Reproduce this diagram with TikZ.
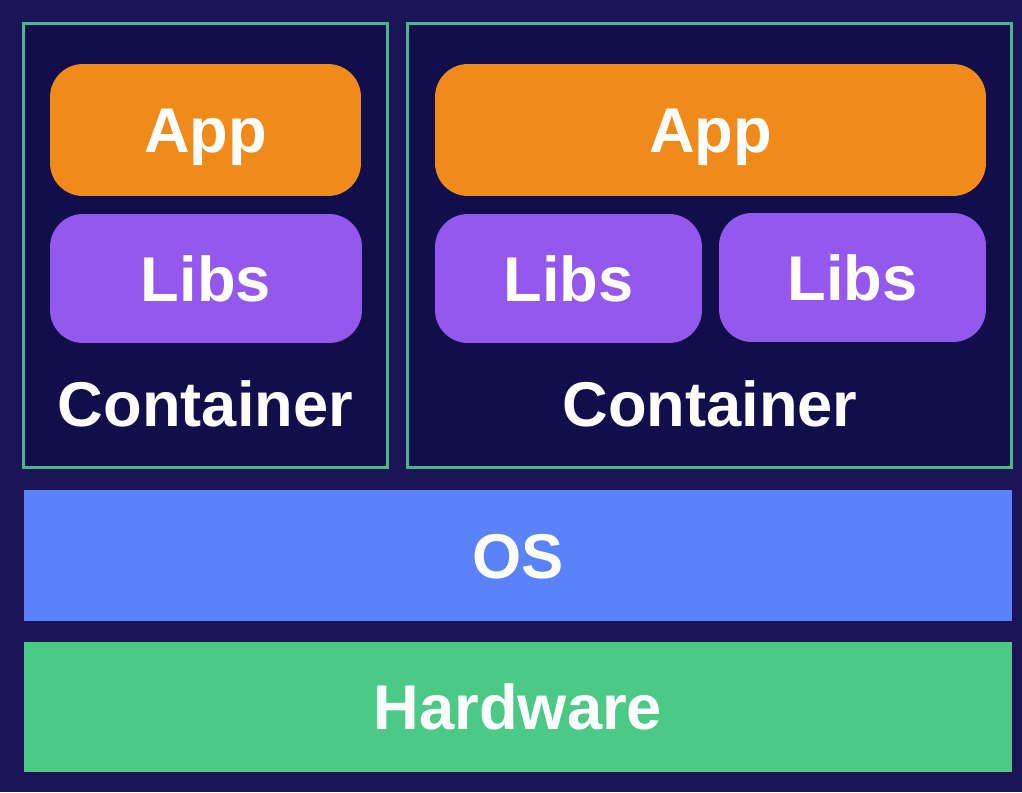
\documentclass[tikz,border=0pt]{standalone}
\usepackage{fontspec}
\setmainfont{Liberation Sans}

\definecolor{navyout}{HTML}{1B1558}
\definecolor{navyin}{HTML}{120E4C}
\definecolor{boxgreen}{HTML}{47B88A}
\definecolor{apporange}{HTML}{F08A1A}
\definecolor{libpurple}{HTML}{9558EE}
\definecolor{osblue}{HTML}{5A82FA}
\definecolor{hwgreen}{HTML}{4BC985}

\tikzset{
  every node/.style={font=\bfseries\fontsize{36}{43}\selectfont, text=white, inner sep=0pt},
  layer/.style={text height=25.8pt, text depth=0pt},
  block/.style={layer, rounded corners=0.66cm},
  contbox/.style={draw=boxgreen, fill=navyin, line width=0.06cm}
}

\begin{document}
\begin{tikzpicture}[x=0.02cm, y=-0.02cm]
\fill[navyout] (0,0) rectangle (1022,792);
\useasboundingbox (0,0) rectangle (1022,792);

% containers
\node[contbox, minimum width=7.3cm, minimum height=8.9cm] (C1) at (205.5,245.5) {};
\node[contbox, minimum width=12.1cm, minimum height=8.9cm] (C2) at (709.5,245.5) {};

\node[block, fill=apporange, minimum width=6.22cm, minimum height=2.64cm] (A1) at (205.5,130) {App};
\node[block, fill=libpurple, minimum width=6.24cm, minimum height=2.58cm] (L1) at (206,278.5) {Libs};
\node[anchor=base] (T1) at (205.5,426) {Container};

\node[block, fill=apporange, minimum width=11.02cm, minimum height=2.64cm] (A2) at (710.5,130) {App};
\node[block, fill=libpurple, minimum width=5.34cm, minimum height=2.58cm] (L2) at (568.5,278.5) {Libs};
\node[block, fill=libpurple, minimum width=5.34cm, minimum height=2.58cm] (L3) at (852.5,277.5) {Libs};
\node[anchor=base] (T2) at (710,426) {Container};

% host layers
\node[layer, fill=osblue, minimum width=19.76cm, minimum height=2.62cm] (OS) at (518,555.5) {OS};
\node[layer, fill=hwgreen, minimum width=19.76cm, minimum height=2.6cm] (HW) at (518,707) {Hardware};
\end{tikzpicture}
\end{document}
